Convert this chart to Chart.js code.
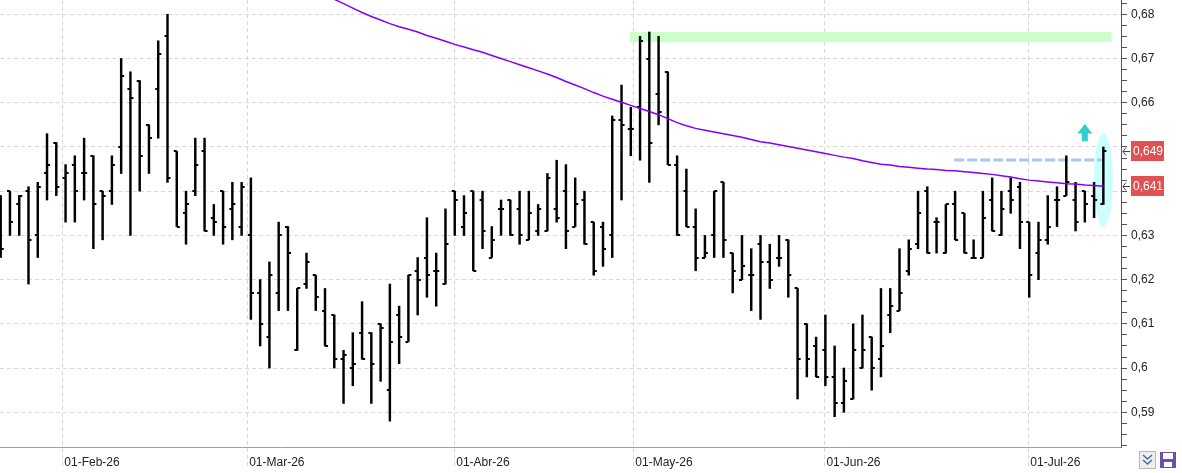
<!DOCTYPE html>
<html>
<head>
<meta charset="utf-8">
<script src="https://cdn.jsdelivr.net/npm/chart.js@4.4.1/dist/chart.umd.min.js"></script>
<style>
  html, body { margin: 0; padding: 0; background: #fff; }
  #wrap { width: 1182px; height: 473px; position: relative; }
</style>
</head>
<body>
<div id="wrap"><canvas id="chart"></canvas></div>
<script>
// daily bars, oldest first (index = trading day)
const opens = [
  .639,.640,.637,.640,.630,.644,.651,.643,.646,.644,
  .648,.640,.640,.650,.663,.665,.655,.663,.675,.649,
  .635,.640,.649,.634,.640,.636,.632,.630,.617,.607,
  .617,.632,.604,.619,.621,.613,.612,.602,.600,.608,
  .608,.610,.595,.612,.606,.622,.625,.622,.619,.640,
  .632,.640,.638,.625,.636,.638,.636,.629,.631,.631,
  .636,.640,.632,.638,.633,.632,.630,.656,.654,.659,
  .670,.662,.667,.646,.640,.632,.625,.630,.642,.626,
  .620,.621,.628,.624,.625,.629,.618,.610,.605,.604,
  .598,.592,.593,.600,.607,.602,.612,.613,.622,.628,
  .640,.633,.626,.637,.635,.625,.625,.638,.630,.640,
  .641,.633,.626,.629,.638,.639,.638,.640,.639,.637
];
const highs = [
  .639,.640,.639,.641,.642,.653,.651,.646,.648,.652,
  .648,.640,.648,.670,.667,.665,.655,.674,.680,.649,
  .640,.652,.652,.637,.640,.642,.642,.643,.620,.624,
  .633,.632,.618,.626,.621,.618,.612,.604,.608,.615,
  .608,.610,.619,.614,.621,.625,.634,.626,.636,.640,
  .639,.640,.640,.632,.638,.638,.640,.640,.637,.644,
  .647,.646,.643,.640,.633,.633,.657,.664,.659,.675,
  .676,.675,.667,.648,.645,.636,.630,.640,.642,.626,
  .630,.627,.630,.628,.630,.629,.618,.610,.607,.612,
  .605,.600,.610,.612,.607,.618,.618,.627,.629,.640,
  .641,.634,.637,.640,.635,.629,.640,.643,.640,.643,
  .642,.633,.633,.639,.641,.648,.642,.640,.642,.650
];
const lows = [
  .625,.630,.630,.619,.625,.638,.639,.633,.633,.638,
  .627,.629,.637,.644,.630,.640,.644,.652,.642,.632,
  .628,.639,.631,.630,.628,.629,.630,.611,.605,.600,
  .613,.613,.604,.618,.613,.605,.600,.592,.596,.602,
  .592,.597,.588,.601,.606,.612,.616,.614,.619,.630,
  .630,.622,.627,.625,.630,.630,.628,.629,.630,.631,
  .633,.627,.632,.628,.621,.623,.625,.638,.648,.647,
  .642,.655,.646,.630,.632,.622,.625,.625,.625,.617,
  .620,.613,.611,.618,.623,.616,.593,.598,.598,.596,
  .589,.590,.593,.600,.595,.598,.608,.613,.621,.627,
  .626,.626,.626,.629,.626,.625,.625,.631,.630,.635,
  .627,.616,.620,.628,.632,.639,.631,.633,.634,.637
];
const closes = [
  .627,.633,.639,.629,.641,.646,.641,.644,.640,.644,
  .637,.639,.646,.666,.661,.648,.652,.671,.643,.632,
  .637,.646,.631,.633,.632,.637,.641,.617,.610,.621,
  .630,.626,.618,.624,.616,.605,.602,.603,.601,.602,
  .601,.609,.606,.607,.621,.620,.621,.622,.628,.638,
  .635,.622,.631,.629,.636,.630,.630,.635,.636,.643,
  .634,.631,.637,.628,.622,.627,.656,.655,.654,.674,
  .651,.658,.646,.630,.632,.625,.626,.640,.629,.622,
  .623,.621,.624,.620,.625,.621,.602,.602,.598,.598,
  .592,.597,.604,.604,.600,.605,.614,.617,.627,.635,
  .626,.633,.637,.629,.626,.625,.634,.631,.636,.638,
  .633,.621,.629,.632,.638,.642,.633,.637,.638,.649
];

// moving average, first value belongs to bar index maStart
const maStart = 36;
const maValues = [
  .6834,.6824,.6814,.6804,.6795,.6787,.6779,.6772,.6766,.6760,
  .6752,.6746,.6739,.6732,.6726,.6720,.6714,.6707,.6700,.6693,
  .6686,.6679,.6672,.6665,.6657,.6648,.6640,.6632,.6623,.6615,
  .6608,.6601,.6594,.6587,.6580,.6573,.6564,.6555,.6548,.6542,
  .6538,.6534,.6530,.6526,.6522,.6517,.6512,.6509,.6505,.6501,
  .6497,.6493,.6489,.6485,.6481,.6477,.6474,.6469,.6465,.6461,
  .6459,.6456,.6454,.6452,.6450,.6449,.6447,.6446,.6444,.6442,
  .6440,.6438,.6435,.6432,.6428,.6425,.6423,.6421,.6419,.6417,
  .6416,.6414,.6413,.6411
];

// date axis: month starts as (fractional) bar positions
const dateTickPos = [6.65, 26.6, 48.95, 68.27, 88.9, 110.9];
const dateTickLabels = ["01-Feb-26", "01-Mar-26", "01-Abr-26", "01-May-26", "01-Jun-26", "01-Jul-26"];
const priceTicks = [0.59, 0.60, 0.61, 0.62, 0.63, 0.64, 0.65, 0.66, 0.67, 0.68];
const minorStep = 0.0025;

// drawn objects on the chart
const resistBand = { from: 67.9, to: 119.9, low: 0.6737, high: 0.6760 };
const breakLine = { from: 102.9, to: 118.8, level: 0.647 };
const lastBarMark = { x: 119, low: 0.6319, high: 0.6532 };
const upArrow = { x: 117, low: 0.6513, high: 0.6552 };

const xMin = -0.0755, xMax = 120.905;
const yMin = 0.582148, yMax = 0.683234;

function isMajor(v) {
  return priceTicks.some(p => Math.abs(p - v) < 1e-6);
}
function fmt(v, d) {
  return String(+v.toFixed(d)).replace('.', ',');
}

function tickImage(side) {
  const c = document.createElement('canvas');
  c.width = 10; c.height = 2;
  const g = c.getContext('2d');
  g.fillStyle = '#000';
  g.fillRect(side === 'left' ? 2 : 5, 0, 3, 2);
  return c;
}

const overlays = {
  id: 'overlays',
  beforeDatasetsDraw(chart) {
    const { ctx, scales: { x, y } } = chart;
    ctx.save();
    // green resistance band
    ctx.fillStyle = '#ccffcc';
    const bx1 = x.getPixelForValue(resistBand.from), bx2 = x.getPixelForValue(resistBand.to);
    const by1 = y.getPixelForValue(resistBand.high), by2 = y.getPixelForValue(resistBand.low);
    ctx.fillRect(bx1, by1, bx2 - bx1, by2 - by1);
    // cyan ellipse round the last bar
    const ex = x.getPixelForValue(lastBarMark.x);
    const ey1 = y.getPixelForValue(lastBarMark.high), ey2 = y.getPixelForValue(lastBarMark.low);
    ctx.fillStyle = '#ccffff';
    ctx.beginPath();
    ctx.ellipse(ex, (ey1 + ey2) / 2, 9.5, (ey2 - ey1) / 2, 0, 0, Math.PI * 2);
    ctx.fill();
    // dashed breakout level
    ctx.strokeStyle = '#a8c8ee';
    ctx.lineWidth = 3;
    ctx.setLineDash([10, 3]);
    const ly = Math.round(y.getPixelForValue(breakLine.level));
    ctx.beginPath();
    ctx.moveTo(x.getPixelForValue(breakLine.from), ly);
    ctx.lineTo(x.getPixelForValue(breakLine.to), ly);
    ctx.stroke();
    ctx.setLineDash([]);
    // up arrow
    const ax = x.getPixelForValue(upArrow.x);
    const at = y.getPixelForValue(upArrow.high), ab = y.getPixelForValue(upArrow.low);
    const head = at + (ab - at) * 0.55;
    ctx.fillStyle = '#33cccc';
    ctx.beginPath();
    ctx.moveTo(ax, at);
    ctx.lineTo(ax + 7.5, head);
    ctx.lineTo(ax + 3, head);
    ctx.lineTo(ax + 3, ab);
    ctx.lineTo(ax - 3, ab);
    ctx.lineTo(ax - 3, head);
    ctx.lineTo(ax - 7.5, head);
    ctx.closePath();
    ctx.fill();
    ctx.restore();
  },
  afterDraw(chart) {
    const { ctx, chartArea, scales: { y } } = chart;
    ctx.save();
    const tags = [closes[closes.length - 1], maValues[maValues.length - 1]];
    ctx.font = '12px Arial, "Liberation Sans", sans-serif';
    ctx.textBaseline = 'middle';
    tags.forEach(v => {
      const py = Math.round(y.getPixelForValue(v));
      ctx.fillStyle = '#e05252';
      ctx.fillRect(chartArea.right + 10, py - 10, 33, 20);
      ctx.fillStyle = '#fff';
      ctx.fillText(fmt(v, 3), chartArea.right + 12, py + 1);
      // little pointer
      ctx.strokeStyle = '#444';
      ctx.lineWidth = 1;
      ctx.beginPath();
      ctx.moveTo(chartArea.right + 2, py + 0.5);
      ctx.lineTo(chartArea.right + 9, py + 0.5);
      ctx.moveTo(chartArea.right + 5, py - 3.5);
      ctx.lineTo(chartArea.right + 2, py + 0.5);
      ctx.lineTo(chartArea.right + 5, py + 4.5);
      ctx.stroke();
    });
    // small toolbar buttons bottom right
    ctx.fillStyle = '#eeeeee';
    ctx.fillRect(1139, 451, 17, 18);
    ctx.strokeStyle = '#b8b8b8';
    ctx.strokeRect(1139.5, 451.5, 16, 17);
    ctx.strokeStyle = '#4a6a9a';
    ctx.lineWidth = 1.5;
    ctx.beginPath();
    ctx.moveTo(1143, 455); ctx.lineTo(1147.5, 459); ctx.lineTo(1152, 455);
    ctx.moveTo(1143, 460); ctx.lineTo(1147.5, 464); ctx.lineTo(1152, 460);
    ctx.stroke();
    ctx.fillStyle = '#6a4fb0';
    ctx.fillRect(1160, 452, 16, 16);
    ctx.fillStyle = '#ffffff';
    ctx.fillRect(1163, 453, 10, 6);
    ctx.fillRect(1164, 462, 8, 5);
    ctx.restore();
  }
};

new Chart(document.getElementById('chart'), {
  type: 'bar',
  data: {
    datasets: [
      {
        type: 'line',
        label: 'MA',
        data: maValues.map((v, k) => ({ x: maStart + k, y: v })),
        borderColor: '#8000ff',
        borderWidth: 1.5,
        pointRadius: 0,
        tension: 0,
        order: 0
      },
      {
        type: 'scatter',
        label: 'Open',
        data: opens.map((v, i) => ({ x: i, y: v })),
        pointStyle: tickImage('left'),
        pointRadius: 3,
        order: 1
      },
      {
        type: 'scatter',
        label: 'Close',
        data: closes.map((v, i) => ({ x: i, y: v })),
        pointStyle: tickImage('right'),
        pointRadius: 3,
        order: 1
      },
      {
        type: 'bar',
        label: 'Range',
        data: lows.map((l, i) => ({ x: i, y: [l, highs[i]] })),
        backgroundColor: '#000',
        borderWidth: 0,
        barThickness: 1.8,
        order: 2
      }
    ]
  },
  plugins: [overlays],
  options: {
    responsive: true,
    maintainAspectRatio: false,
    animation: false,
    events: [],
    layout: { padding: 0, autoPadding: false },
    plugins: { legend: { display: false }, tooltip: { enabled: false } },
    font: { family: 'Arial, "Liberation Sans", sans-serif', size: 12 },
    scales: {
      x: {
        type: 'linear',
        min: xMin,
        max: xMax,
        bounds: 'data',
        offset: false,
        afterBuildTicks: s => { s.ticks = dateTickPos.map(v => ({ value: v })); },
        afterFit: s => { s.height = 26; s.paddingLeft = 0; s.paddingRight = 0; },
        ticks: {
          callback: (v, i) => dateTickLabels[i],
          align: 'start',
          labelOffset: 2,
          padding: -12,
          maxRotation: 0,
          autoSkip: false,
          color: '#222',
          font: { family: 'Arial, "Liberation Sans", sans-serif', size: 12 }
        },
        grid: {
          offset: false,
          color: '#d8d8d8',
          lineWidth: 1,
          tickLength: 20,
          tickColor: '#d8d8d8',
          tickBorderDash: [4, 3]
        },
        border: { display: true, color: '#a0a0a0', dash: [4, 3] }
      },
      y: {
        type: 'linear',
        position: 'right',
        min: yMin,
        max: yMax,
        bounds: 'data',
        beginAtZero: false,
        afterBuildTicks: s => {
          const t = [];
          for (let k = Math.ceil(yMin / minorStep); k * minorStep <= yMax; k++) {
            t.push({ value: +(k * minorStep).toFixed(4) });
          }
          s.ticks = t;
        },
        afterFit: s => { s.width = 61; s.paddingTop = 0; s.paddingBottom = 0; },
        ticks: {
          callback: v => (isMajor(v) ? fmt(v, 2) : ''),
          padding: 4,
          autoSkip: false,
          color: '#222',
          font: { family: 'Arial, "Liberation Sans", sans-serif', size: 12 }
        },
        grid: {
          color: c => (c.tick && isMajor(c.tick.value) ? '#d8d8d8' : 'rgba(0,0,0,0)'),
          lineWidth: 1,
          tickLength: 6,
          tickColor: '#555'
        },
        border: { display: true, color: '#555', dash: [4, 3] }
      }
    }
  }
});
</script>
</body>
</html>
